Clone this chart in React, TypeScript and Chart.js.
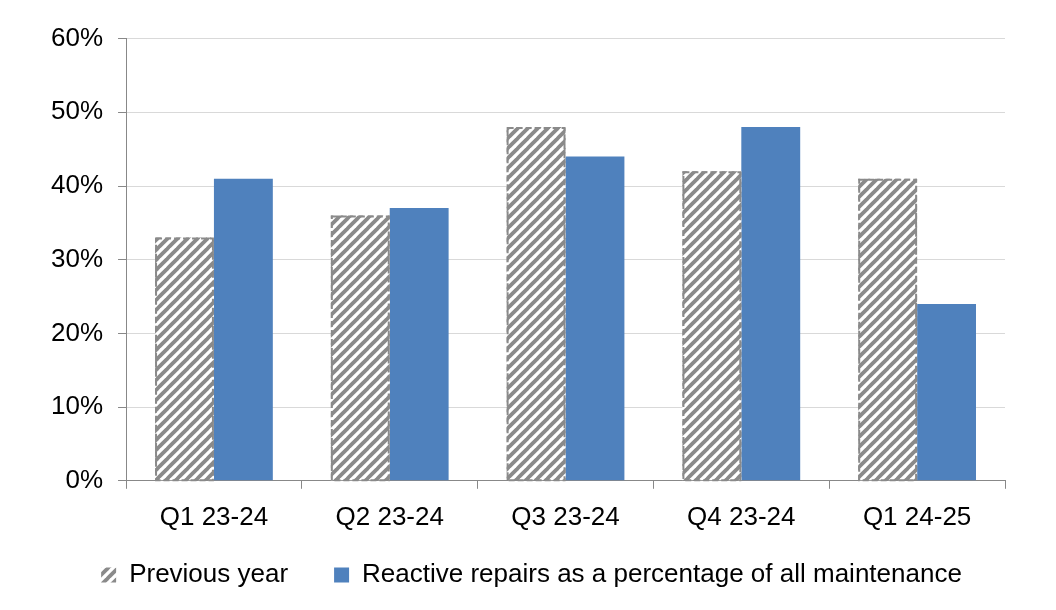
import React, { useEffect, useRef } from "react";
import { Chart, registerables } from "chart.js";

Chart.register(...registerables);

const categories = ["Q1 23-24", "Q2 23-24", "Q3 23-24", "Q4 23-24", "Q1 24-25"];
const previousYear = [33, 36, 48, 42, 41];
const reactiveRepairs = [41, 37, 44, 48, 24];
const yTicks = [0, 10, 20, 30, 40, 50, 60];
const seriesNames = ["Previous year", "Reactive repairs as a percentage of all maintenance"];

const LEGEND_SHIFT = 30;
const LEGEND_SHIFT_X = 11;

function makeHatch(): CanvasPattern | string {
  const c = document.createElement("canvas");
  const s = 10;
  c.width = s;
  c.height = s;
  const ctx = c.getContext("2d");
  if (!ctx) return "#888";
  ctx.fillStyle = "#ffffff";
  ctx.fillRect(0, 0, s, s);
  ctx.strokeStyle = "#8a8a8a";
  ctx.lineWidth = 3.8;
  for (const off of [-s, 0, s]) {
    ctx.beginPath();
    ctx.moveTo(off - 1, s + 1);
    ctx.lineTo(off + s + 1, -1);
    ctx.stroke();
  }
  return ctx.createPattern(c, "repeat") || "#888";
}

const dashedBorder = {
  id: "dashedBorder",
  afterDatasetsDraw(chart: any) {
    const meta = chart.getDatasetMeta(0);
    const ctx = chart.ctx;
    ctx.save();
    ctx.strokeStyle = "#8a8a8a";
    ctx.lineWidth = 2;
    ctx.setLineDash([6, 3]);
    meta.data.forEach((bar: any) => {
      const p = bar.getProps(["x", "y", "base", "width"], true);
      const l = p.x - p.width / 2;
      ctx.strokeRect(l + 1, p.y + 1, p.width - 2, p.base - p.y - 1);
    });
    ctx.restore();
  },
};

const legendShift = {
  id: "legendShift",
  afterInit(chart: any) {
    const lg = chart.legend;
    if (!lg) return;
    const fit = lg.fit.bind(lg);
    lg.fit = function () {
      fit();
      this.height -= LEGEND_SHIFT;
    };
    const draw = lg.draw.bind(lg);
    lg.draw = function (area: any) {
      this.top -= LEGEND_SHIFT;
      this.left += LEGEND_SHIFT_X;
      this.right += LEGEND_SHIFT_X;
      draw(area);
      this.top += LEGEND_SHIFT;
      this.left -= LEGEND_SHIFT_X;
      this.right -= LEGEND_SHIFT_X;
    };
  },
};

export default function App() {
  const ref = useRef<HTMLCanvasElement>(null);
  useEffect(() => {
    document.body.style.overflow = "hidden";
    const font = { family: "'Liberation Sans', Arial, sans-serif", size: 26 };
    const chart = new Chart(ref.current!, {
      type: "bar",
      data: {
        labels: categories,
        datasets: [
          {
            label: seriesNames[0],
            data: previousYear,
            backgroundColor: makeHatch() as any,
            borderWidth: 0,
            categoryPercentage: 0.67,
            barPercentage: 1,
          },
          {
            label: seriesNames[1],
            data: reactiveRepairs,
            backgroundColor: "#4f81bd",
            borderWidth: 0,
            categoryPercentage: 0.67,
            barPercentage: 1,
          },
        ],
      },
      options: {
        responsive: false,
        animation: false,
        layout: { padding: { left: 28, right: 50, top: 18, bottom: 10 } },
        plugins: {
          tooltip: { enabled: false },
          legend: {
            position: "bottom",
            labels: {
              font,
              color: "#000",
              boxWidth: 15,
              boxHeight: 15,
              padding: 46,
            },
          },
        },
        scales: {
          x: {
            grid: {
              drawOnChartArea: false,
              drawTicks: true,
              offset: true,
              tickLength: 8,
              tickColor: "#888",
            },
            border: { color: "#888", width: 1 },
            ticks: { font, color: "#000", padding: 13 },
          },
          y: {
            min: 0,
            max: 60,
            afterBuildTicks: (axis: any) => {
              axis.ticks = yTicks.map((v) => ({ value: v }));
            },
            grid: { color: "#d9d9d9", tickColor: "#888", tickLength: 8 },
            border: { color: "#888", width: 1 },
            ticks: { font, color: "#000", padding: 15, callback: (v: any) => v + "%" },
          },
        },
      },
      plugins: [dashedBorder, legendShift],
    });
    return () => chart.destroy();
  }, []);
  return (
    <div
      style={{
        marginLeft: -1,
        marginTop: -1,
        width: 1047,
        height: 602,
        borderTop: "1px solid #d9d9d9",
        borderLeft: "1px solid #d9d9d9",
        borderRight: "1px solid #d9d9d9",
      }}
    >
      <canvas ref={ref} width={1047} height={600} style={{ display: "block" }} />
    </div>
  );
}
